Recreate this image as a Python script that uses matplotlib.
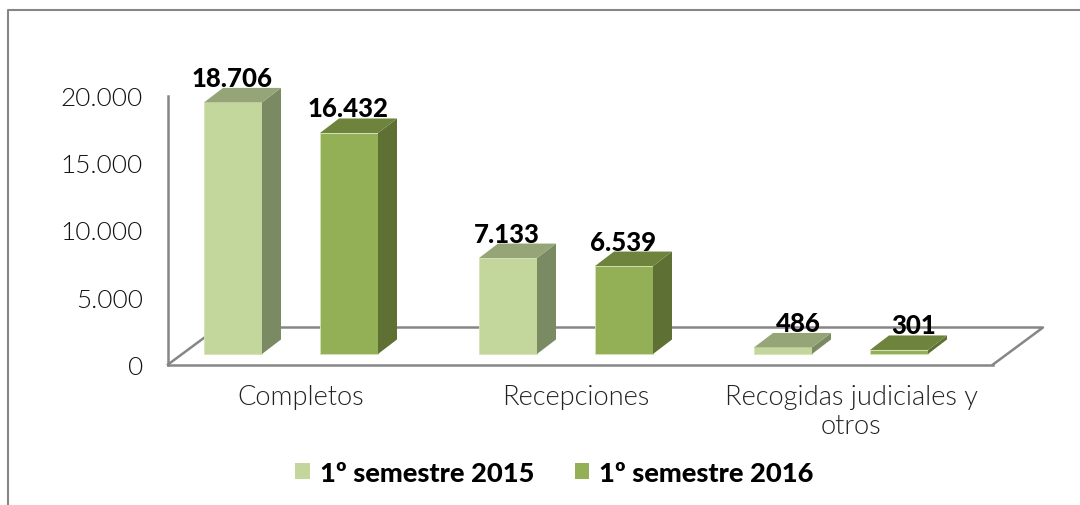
import matplotlib
matplotlib.use('Agg')
import matplotlib.pyplot as plt
from matplotlib.lines import Line2D
from matplotlib.patches import Patch, Polygon
from matplotlib.transforms import Affine2D, IdentityTransform

categories = ['Completos', 'Recepciones', 'Recogidas judiciales y\notros']
series_names = ['1º semestre 2015', '1º semestre 2016']
values_2015 = [18706, 7133, 486]
values_2016 = [16432, 6539, 301]
y_ticks = [0, 5000, 10000, 15000, 20000]
y_tick_labels = ['0', '5.000', '10.000', '15.000', '20.000']

W, H = 1080, 506
plt.rcParams['font.family'] = ['Lato', 'DejaVu Sans']

GRAY = '#868686'
FACES = [('#C3D69B', '#7A8A63', '#95A578'), ('#93B056', '#5E7033', '#6E833B')]
DEPTH_X, DEPTH_Y = 19, 14.5     # bar depth in pixels
FLOOR_X, FLOOR_Y = 50, 37       # floor depth in pixels
SHIFT_X, SHIFT_Y = -14.5, 10.5  # bars stand inside the floor

fig = plt.figure(figsize=(W / 100, H / 100), dpi=100)
ax = fig.add_axes([168 / W, 1 - 365.5 / H, 825 / W, 269 / H])
ax.set_xlim(0, 3)
ax.set_ylim(0, 20000)
ax.patch.set_alpha(0)

for s in ['top', 'right']:
    ax.spines[s].set_visible(False)
for s in ['left', 'bottom']:
    ax.spines[s].set_color(GRAY)
    ax.spines[s].set_linewidth(1.8)

ax.set_yticks(y_ticks)
ax.set_yticklabels(y_tick_labels, fontsize=18.8, color='#111111', fontweight=300)
ax.set_xticks([i + 0.5 - 4.5 / 275 for i in range(3)])
ax.set_xticklabels(categories, fontsize=19.6, color='#222222', linespacing=1.18, fontweight=300)
ax.tick_params(axis='both', length=0)
ax.tick_params(axis='y', pad=18)
ax.tick_params(axis='x', pad=14)

# floor, drawn in pixels from the corners of the axes
to_px = ax.transAxes.transform
(x0, y0), (x1, _) = to_px((0, 0)), to_px((1, 0))
px = IdentityTransform()
ax.add_line(Line2D([x0, x0 + FLOOR_X, x1 + FLOOR_X, x1], [y0, y0 + FLOOR_Y, y0 + FLOOR_Y, y0],
                   color=GRAY, lw=1.8, transform=px, clip_on=False, zorder=1))

bar_w = 58 / 275
bar_tf = Affine2D().translate(SHIFT_X, SHIFT_Y)
for j, vals in enumerate([values_2015, values_2016]):
    front, side, top = FACES[j]
    for i, v in enumerate(vals):
        xc = i + 0.5 + (j - 0.5) * 116 / 275
        ax.bar(xc, v, bar_w, color=front, edgecolor='#D5E3B5', linewidth=0.6,
               transform=ax.transData + bar_tf, zorder=3, clip_on=False)
        xa, ya = ax.transData.transform((xc - bar_w / 2, 0)) + (SHIFT_X, SHIFT_Y)
        xb, yb = ax.transData.transform((xc + bar_w / 2, v)) + (SHIFT_X, SHIFT_Y)
        ax.add_patch(Polygon([(xb, ya), (xb + DEPTH_X, ya + DEPTH_Y), (xb + DEPTH_X, yb + DEPTH_Y), (xb, yb)],
                             facecolor=side, edgecolor='none', transform=px, zorder=3, clip_on=False))
        ax.add_patch(Polygon([(xa, yb), (xb, yb), (xb + DEPTH_X, yb + DEPTH_Y), (xa + DEPTH_X, yb + DEPTH_Y)],
                             facecolor=top, edgecolor='none', transform=px, zorder=3, clip_on=False))
        # small bars have their labels pushed towards the back
        dx = 15 if v < 1000 else -1
        ax.text((xa + xb) / 2 + dx, yb + DEPTH_Y + 2, f'{v:,}'.replace(',', '.'),
                transform=px, ha='center', va='baseline', fontsize=18.5, fontweight='black',
                color='black', zorder=5)

handles = [Patch(facecolor=FACES[j][0], label=series_names[j]) for j in range(2)]
fig.legend(handles=handles, loc='center', bbox_to_anchor=(554.5 / W, 1 - 474 / H), ncol=2, frameon=False,
           prop={'size': 19.6, 'weight': 'black'}, handlelength=0.52, handleheight=0.52,
           handletextpad=0.37, columnspacing=1.5, labelcolor='black')

# chart frame, cut off by the image on the right and bottom
fig.add_artist(Line2D([8 / W, 8 / W, 1], [0, 1 - 11 / H, 1 - 11 / H], color=GRAY, lw=1.5))

fig.savefig('out.png', dpi=100)
